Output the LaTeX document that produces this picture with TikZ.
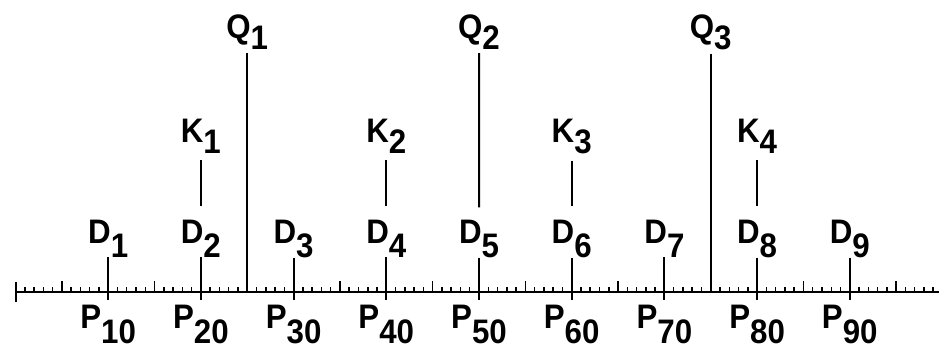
\documentclass[tikz,border=0pt]{standalone}
\usepackage{fontspec}
\newfontfamily\lblfont{Liberation Sans}[FakeStretch=0.92]
\usetikzlibrary{calc}
\newcommand\lbl[3][12pt]{#2\raisebox{-#1}{#3}}

\begin{document}
\begin{tikzpicture}[x=1pt,y=1pt,
  lab/.style={font=\lblfont\bfseries\fontsize{34}{34}\selectfont,inner sep=0pt,anchor=base},
  rule/.style={line width=2pt}]
\useasboundingbox (0,0) rectangle (939,349);
% axis
\coordinate (left) at (15.5,57);
\coordinate (right) at (939,57);
\draw[rule] (left) -- (right);
\draw[rule] ($(left)+(0,-10)$) -- ($(left)+(0,10)$);
\foreach \i in {1,...,99}
  {\draw[line width=1.5pt] (15.5+9.27*\i,57) -- ++(0,5);}
\foreach \i in {5,15,...,95}
  {\draw[line width=1.5pt] (15.5+9.27*\i,57) -- ++(0,11);}
% deciles and percentiles
\foreach \i in {1,...,9}
  {\node[lab] (d\i) at (15.5+92.7*\i,106) {\lbl[14pt]{D}{\i}};
   \node[lab] (p\i) at (15.5+92.7*\i,21) {\lbl[15pt]{P}{\i0}};
   \draw[rule,shorten >=4pt] (d\i.south) -- (p\i.north);}
% quartiles
\foreach \i/\p in {1/25,2/50,3/75}
  {\node[lab] (q\i) at (15.5+9.27*\p,311) {\lbl[11pt]{Q}{\i}};
   \coordinate (a\i) at (15.5+9.27*\p,57);}
\draw[rule,shorten <=4pt] (q1.south) -- (a1);
\draw[rule,shorten <=4pt,shorten >=12pt] (q2.south) -- (d5.north);
\draw[rule,shorten <=4pt] (q3.south) -- (a3);
% quintiles
\foreach \i in {1,...,4}
  {\node[lab] (k\i) at (15.5+185.4*\i,207) {\lbl[11pt]{K}{\i}};
   \pgfmathtruncatemacro\j{2*\i}
   \draw[rule,shorten <=7pt,shorten >=13pt] (k\i.south) -- (d\j.north);}
\end{tikzpicture}
\end{document}
